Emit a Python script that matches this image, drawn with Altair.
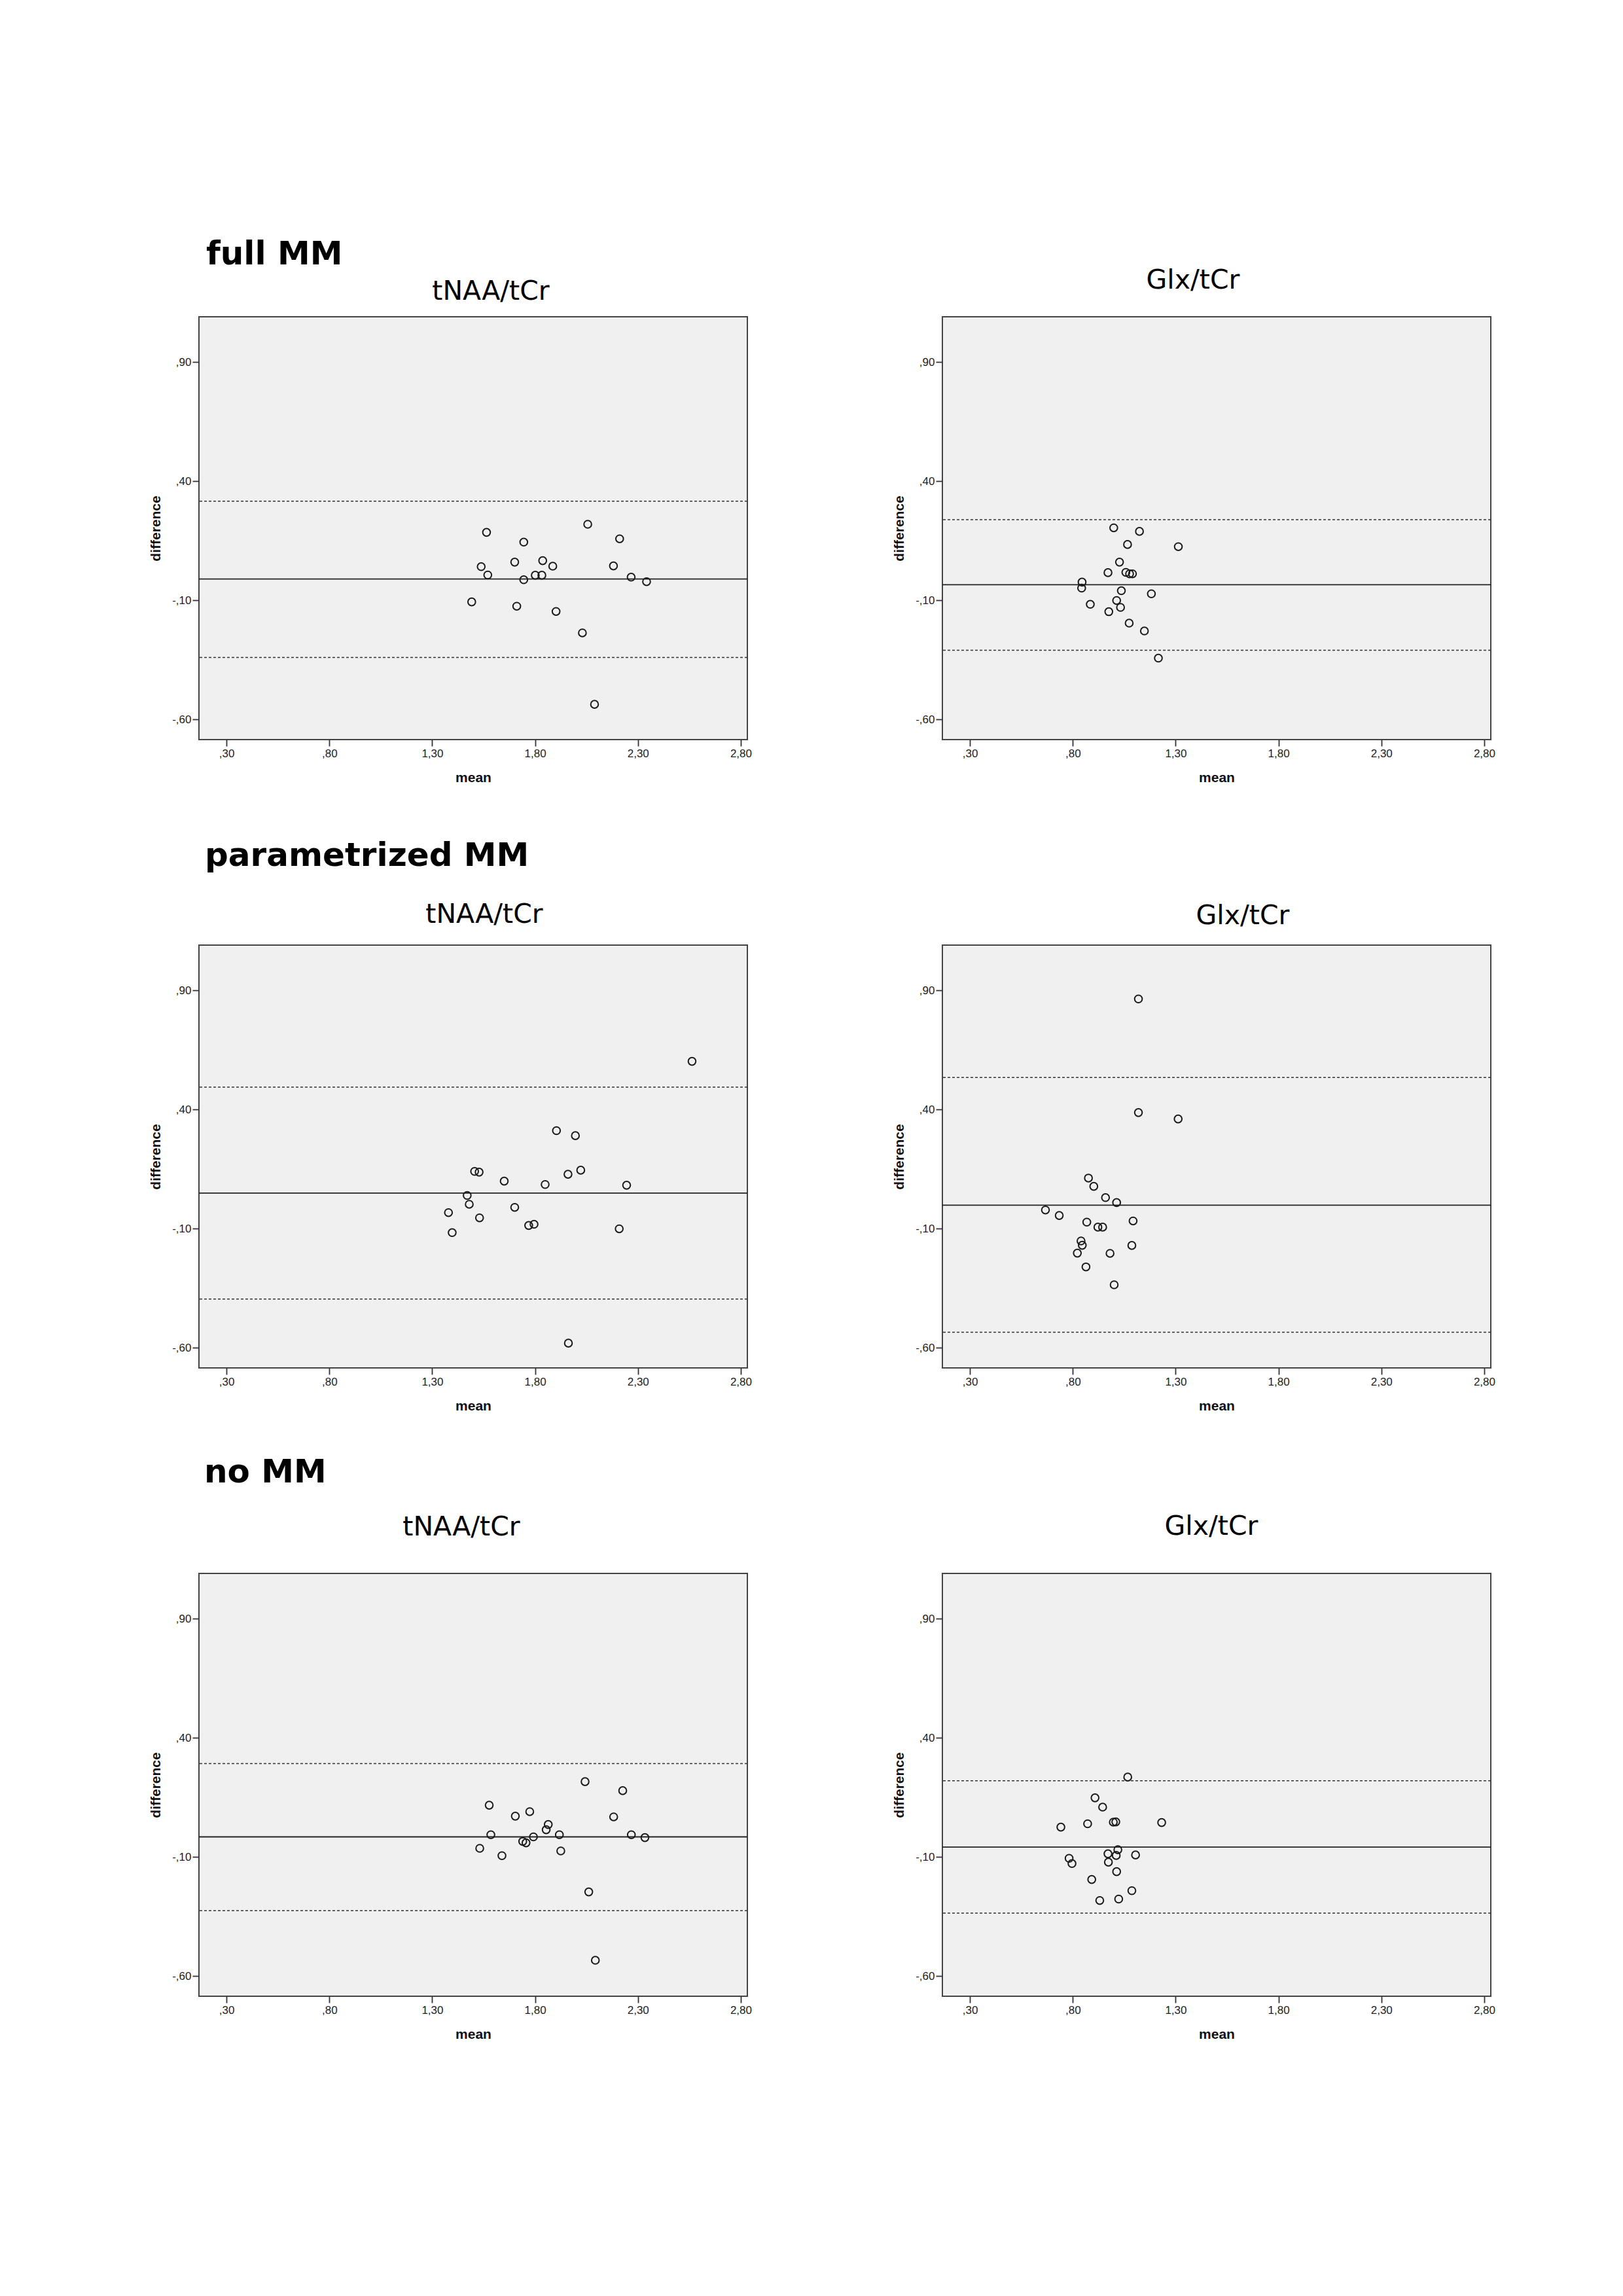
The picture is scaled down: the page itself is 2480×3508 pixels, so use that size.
import altair as alt
import pandas as pd

# ---------------- data ----------------
X_TICKS = [0.30, 0.80, 1.30, 1.80, 2.30, 2.80]
Y_TICKS = [-0.60, -0.10, 0.40, 0.90]
X_DOMAIN = [0.166, 2.832]
Y_DOMAIN = [-0.685, 1.09]

SECTIONS = ["full MM", "parametrized MM", "no MM"]
METABOLITES = ["tNAA/tCr", "Glx/tCr"]

FULL_TNAA_MEAN = [1.564, 1.745, 1.701, 1.538, 1.570, 1.745, 1.801, 1.833, 1.837, 1.886,
                  1.492, 1.711, 1.902, 2.056, 2.211, 2.181, 2.267, 2.342, 2.030, 2.089]
FULL_TNAA_DIFF = [0.185, 0.144, 0.060, 0.041, 0.006, -0.014, 0.005, 0.005, 0.066, 0.043,
                  -0.107, -0.125, -0.147, 0.219, 0.158, 0.044, -0.003, -0.022, -0.237, -0.537]
FULL_TNAA_LINES = [-0.011, 0.316, -0.340]   # bias, upper LoA, lower LoA

FULL_GLX_MEAN = [0.999, 1.124, 1.066, 1.313, 1.027, 0.971, 1.058, 1.076, 1.090, 0.845,
                 0.843, 1.036, 1.182, 1.013, 0.885, 1.032, 0.975, 1.074, 1.148, 1.216]
FULL_GLX_DIFF = [0.204, 0.189, 0.134, 0.125, 0.060, 0.016, 0.017, 0.011, 0.011, -0.024,
                 -0.049, -0.060, -0.073, -0.101, -0.117, -0.130, -0.148, -0.196, -0.229, -0.343]
FULL_GLX_LINES = [-0.035, 0.238, -0.310]

PARAM_TNAA_MEAN = [2.563, 1.904, 1.996, 1.506, 1.528, 2.022, 1.960, 1.650, 1.849, 2.245,
                   1.470, 1.480, 1.379, 1.701, 1.530, 1.769, 1.795, 2.209, 1.397, 1.962]
PARAM_TNAA_DIFF = [0.602, 0.311, 0.290, 0.140, 0.137, 0.145, 0.128, 0.099, 0.085, 0.082,
                   0.039, 0.002, -0.033, -0.011, -0.055, -0.087, -0.082, -0.101, -0.117, -0.581]
PARAM_TNAA_LINES = [0.049, 0.494, -0.396]

PARAM_GLX_MEAN = [1.119, 1.119, 1.312, 0.876, 0.902, 0.959, 1.013, 0.667, 0.734, 0.868,
                  1.093, 0.922, 0.945, 0.840, 0.846, 1.087, 0.822, 0.981, 0.864, 1.001]
PARAM_GLX_DIFF = [0.864, 0.387, 0.360, 0.112, 0.077, 0.030, 0.009, -0.022, -0.045, -0.073,
                  -0.068, -0.094, -0.094, -0.152, -0.170, -0.171, -0.203, -0.204, -0.261, -0.336]
PARAM_GLX_LINES = [-0.002, 0.534, -0.535]

NO_TNAA_MEAN = [2.043, 2.226, 1.577, 1.774, 1.704, 2.182, 1.864, 1.854, 1.585, 1.918,
                1.792, 2.268, 2.334, 1.740, 1.756, 1.531, 1.925, 1.639, 2.061, 2.093]
NO_TNAA_DIFF = [0.216, 0.178, 0.117, 0.090, 0.071, 0.068, 0.036, 0.014, -0.007, -0.007,
                -0.016, -0.007, -0.019, -0.035, -0.041, -0.064, -0.075, -0.095, -0.247, -0.534]
NO_TNAA_LINES = [-0.016, 0.292, -0.326]

NO_GLX_MEAN = [1.067, 0.908, 0.945, 0.742, 0.872, 0.997, 1.009, 1.232, 1.019, 0.782,
               0.971, 1.011, 1.105, 0.796, 0.973, 1.013, 0.892, 1.087, 0.931, 1.023]
NO_GLX_DIFF = [0.235, 0.148, 0.109, 0.025, 0.039, 0.046, 0.047, 0.044, -0.070, -0.106,
               -0.087, -0.094, -0.092, -0.128, -0.122, -0.162, -0.195, -0.242, -0.283, -0.277]
NO_GLX_LINES = [-0.059, 0.220, -0.336]

# ---------------- chart ----------------
W, H = 838, 646
LABEL_EXPR = ("(datum.value < 0 ? '-' : '') + "
              "(abs(datum.value) >= 1 ? floor(abs(datum.value) + 1e-9) : '') + ',' + "
              "slice(format(abs(datum.value), '.2f'), -2)")


def text_layer(txt, px, py, size, weight, align):
    return alt.Chart(pd.DataFrame({"t": [txt]})).mark_text(
        align=align, baseline="alphabetic", font="DejaVu Sans",
        fontWeight=weight, fontSize=size, color="black"
    ).encode(x=alt.value(px), y=alt.value(py), text="t:N")


def panel(means, diffs, lines, title, title_dx, title_offset,
          header=None, header_x=0, header_y=0):
    df = pd.DataFrame({"mean": means, "difference": diffs})
    x = alt.X("mean:Q",
              scale=alt.Scale(domain=X_DOMAIN, nice=False, zero=False),
              axis=alt.Axis(values=X_TICKS, labelExpr=LABEL_EXPR, title="mean",
                            titleX=W / 2, titleY=64, titleAlign="center",
                            titleBaseline="alphabetic", labelPadding=3))
    y = alt.Y("difference:Q",
              scale=alt.Scale(domain=Y_DOMAIN, nice=False, zero=False),
              axis=alt.Axis(values=Y_TICKS, labelExpr=LABEL_EXPR, title="difference",
                            titleX=-66, titleY=H / 2, titleAngle=270,
                            titleAlign="center", titleBaseline="middle",
                            labelPadding=2))
    pts = alt.Chart(df).mark_point(
        shape="circle", filled=False, size=135, stroke="#1a1a1a",
        strokeWidth=2, opacity=1
    ).encode(x=x, y=y)
    bias = alt.Chart(pd.DataFrame({"difference": lines[:1]})).mark_rule(
        color="#222", strokeWidth=1.8
    ).encode(y=y)
    loa = alt.Chart(pd.DataFrame({"difference": lines[1:]})).mark_rule(
        color="#333", strokeWidth=1.5, strokeDash=[4, 3]
    ).encode(y=y)
    layers = [loa, bias, pts,
              text_layer(title, W / 2 + title_dx, -title_offset, 41, "normal", "center")]
    if header:
        layers.append(text_layer(header, header_x, header_y, 50, "bold", "left"))
    return alt.layer(*layers).properties(width=W, height=H)


p1 = panel(FULL_TNAA_MEAN, FULL_TNAA_DIFF, FULL_TNAA_LINES, METABOLITES[0], 27, 26,
           SECTIONS[0], 11, -80)
p2 = panel(FULL_GLX_MEAN, FULL_GLX_DIFF, FULL_GLX_LINES, METABOLITES[1], -36, 43)
p3 = panel(PARAM_TNAA_MEAN, PARAM_TNAA_DIFF, PARAM_TNAA_LINES, METABOLITES[0], 17, 34,
           SECTIONS[1], 9, -121)
p4 = panel(PARAM_GLX_MEAN, PARAM_GLX_DIFF, PARAM_GLX_LINES, METABOLITES[1], 40, 32)
p5 = panel(NO_TNAA_MEAN, NO_TNAA_DIFF, NO_TNAA_LINES, METABOLITES[0], -18, 58,
           SECTIONS[2], 8, -139)
p6 = panel(NO_GLX_MEAN, NO_GLX_DIFF, NO_GLX_LINES, METABOLITES[1], -8, 59)

chart = alt.concat(
    p1, p2, p3, p4, p5, p6, columns=2,
    spacing={"row": 314, "column": 298}, bounds="flush"
).properties(
    padding={"left": 218, "top": 355, "right": 20, "bottom": 20},
    background="white"
).configure_view(
    fill="#f0f0f0", stroke="#444", strokeWidth=2
).configure_axis(
    labelFont="Liberation Sans", labelFontSize=17, labelColor="#222",
    titleFont="Liberation Sans", titleFontSize=21, titleFontWeight="bold",
    titleColor="#111", tickSize=10, tickWidth=1.8, tickColor="#333",
    domain=False, grid=False
)

chart.save("out.html", embed_options={"renderer": "svg", "actions": False})
